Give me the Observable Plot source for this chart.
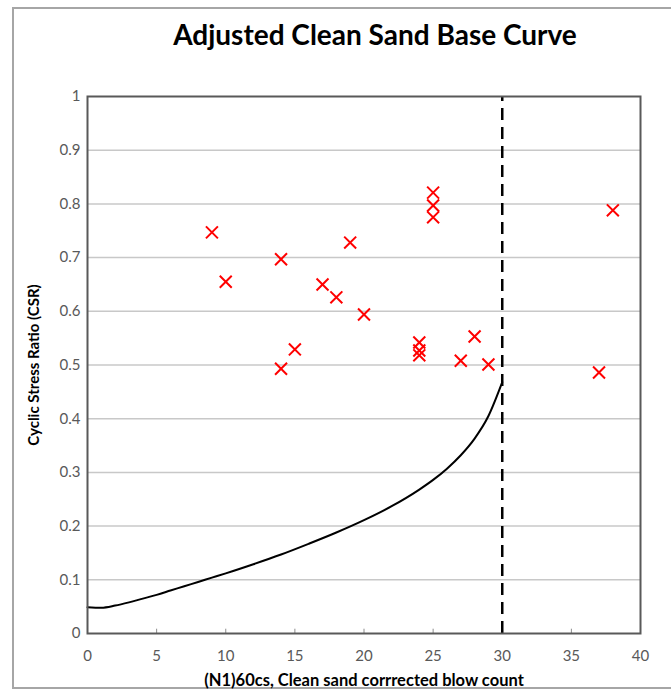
<!DOCTYPE html>
<html>
<head>
<meta charset="utf-8">
<script src="https://cdn.jsdelivr.net/npm/d3@7"></script>
<script src="https://cdn.jsdelivr.net/npm/@observablehq/plot@0.6"></script>
<style>
  html, body { margin: 0; padding: 0; background: #fff; }
  body { width: 671px; height: 692px; position: relative; overflow: hidden; font-family: Lato, "Open Sans", sans-serif; }
  #frame { position: absolute; left: 12px; top: 7px; width: 700px; height: 682px; border: 2px solid #a6a6a6; box-sizing: border-box; }
  #title { position: absolute; left: 0; top: 0; width: 671px; height: 70px; }
  #title h1 { position: absolute; left: 75px; width: 600px; top: 17px; margin: 0; text-align: center; font: bold 28px Lato, sans-serif; color: #000; }
  #chart { position: absolute; left: 0; top: 70px; }
</style>
</head>
<body>
<div id="frame"></div>
<div id="title"><h1>Adjusted Clean Sand Base Curve</h1></div>
<div id="chart"></div>
<script>
// Base curve: (N1)60cs vs CSR
const curveN   = [0, 1, 2, 3, 4, 5, 6, 7, 8, 9, 10, 12, 14, 16, 18, 20, 22, 24, 25, 26, 27, 28, 29, 30];
const curveCSR = [0.049, 0.048, 0.052, 0.058, 0.065, 0.072, 0.080, 0.088, 0.096, 0.104, 0.112, 0.129, 0.147, 0.167, 0.188, 0.211, 0.237, 0.268, 0.286, 0.307, 0.332, 0.363, 0.405, 0.468];

// Field points (red crosses)
const pointN   = [9, 10, 14, 14, 15, 17, 18, 19, 20, 24, 24, 24, 25, 25, 25, 27, 28, 29, 37, 38];
const pointCSR = [0.747, 0.655, 0.697, 0.493, 0.529, 0.650, 0.626, 0.728, 0.594, 0.542, 0.527, 0.518, 0.821, 0.797, 0.775, 0.508, 0.553, 0.501, 0.486, 0.788];

// Limit line
const limitN = [30];

const xTicks = [0, 5, 10, 15, 20, 25, 30, 35, 40];
const yTicks = [0, 0.1, 0.2, 0.3, 0.4, 0.5, 0.6, 0.7, 0.8, 0.9, 1];
const gridY  = [0.1, 0.2, 0.3, 0.4, 0.5, 0.6, 0.7, 0.8, 0.9];

const curve = curveN.map((n, i) => ({n, csr: curveCSR[i]}));
const points = pointN.map((n, i) => ({n, csr: pointCSR[i]}));

const chart = Plot.plot({
  width: 671,
  height: 622,
  marginLeft: 87,
  marginRight: 31,
  marginTop: 26,
  marginBottom: 59,
  style: {fontFamily: "Lato, sans-serif", background: "transparent"},
  x: {domain: [0, 40], label: null},
  y: {domain: [0, 1], label: null},
  marks: [
    Plot.ruleY(gridY, {stroke: "#c8c8c8", strokeWidth: 1.5}),
    Plot.ruleX(xTicks.slice(1, -1), {y1: 0, y2: 0.008, stroke: "#8c8c8c", strokeWidth: 1}),
    Plot.axisX({ticks: xTicks, tickSize: 0, tickPadding: 17, fontSize: 15, fill: "#595959", tickFormat: d => String(d)}),
    Plot.axisY({ticks: yTicks, tickSize: 0, tickPadding: 7, fontSize: 15, fill: "#595959", tickFormat: d => String(d)}),
    Plot.axisX({ticks: [], label: "(N1)60cs, Clean sand corrrected blow count", labelAnchor: "center", labelArrow: "none", labelOffset: 52, fontSize: 16.5, fontWeight: "bold", fill: "#000"}),
    Plot.axisY({ticks: [], label: "Cyclic Stress Ratio (CSR)", labelAnchor: "center", labelArrow: "none", labelOffset: 59, fontSize: 15, fontWeight: "bold", fill: "#000"}),
    Plot.line(curve, {x: "n", y: "csr", curve: "monotone-x", stroke: "#000", strokeWidth: 2}),
    Plot.ruleX(limitN, {y1: 0, y2: 1, stroke: "#000", strokeWidth: 2.5, strokeDasharray: "12,7"}),
    Plot.dot(points, {x: "n", y: "csr", symbol: "times", r: 5.5, stroke: "#ff0000", strokeWidth: 2}),
    Plot.frame({stroke: "#595959", strokeWidth: 2})
  ]
});
document.getElementById("chart").appendChild(chart);
</script>
</body>
</html>
